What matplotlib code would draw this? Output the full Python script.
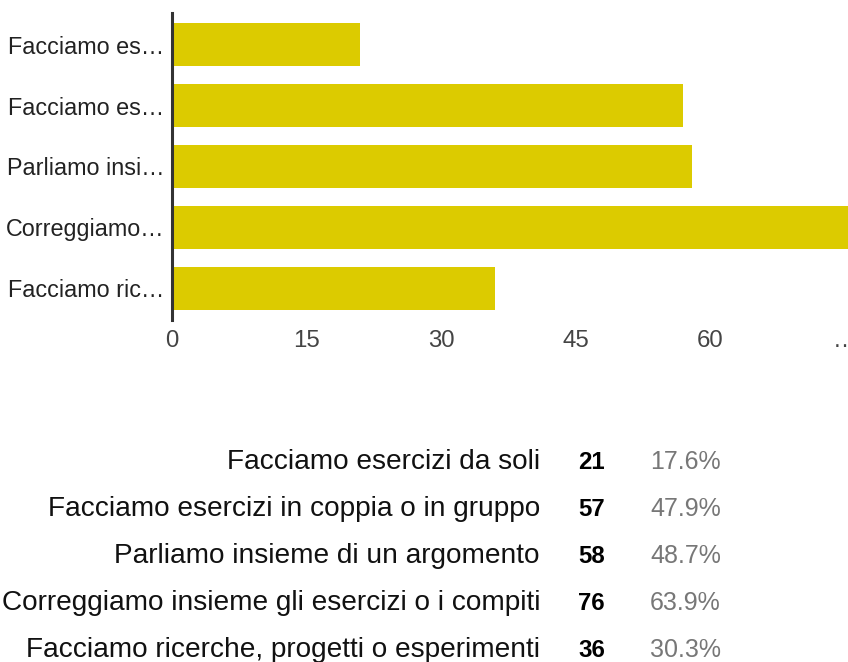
import matplotlib
matplotlib.use("Agg")
import matplotlib.pyplot as plt

plt.rcParams['font.family'] = ['Liberation Sans', 'DejaVu Sans']

labels_full = ["Facciamo esercizi da soli",
               "Facciamo esercizi in coppia o in gruppo",
               "Parliamo insieme di un argomento",
               "Correggiamo insieme gli esercizi o i compiti",
               "Facciamo ricerche, progetti o esperimenti"]
labels_short = ["Facciamo es\u2026", "Facciamo es\u2026", "Parliamo insi\u2026",
                "Correggiamo\u2026", "Facciamo ric\u2026"]
counts = [21, 57, 58, 76, 36]
percents = ["17.6%", "47.9%", "48.7%", "63.9%", "30.3%"]
xticks = [0, 15, 30, 45, 60, 75]
xtick_labels = ["0", "15", "30", "45", "60", "\u2026"]

W, H = 848, 662
fig = plt.figure(figsize=(W / 100, H / 100), dpi=100)
ax = fig.add_axes([172 / W, 1 - 320 / H, (W - 172) / W, 307 / H])

pos = list(range(len(counts)))
ax.barh(pos, counts, height=0.7, color="#dccb00", zorder=2)
ax.set_xlim(0, 75.4)
ax.set_ylim(4.52, -0.52)
ax.set_yticks(pos)
ax.set_yticklabels(labels_short, fontsize=16.8, color="#222222")
ax.set_xticks(xticks)
ax.set_xticklabels(xtick_labels, fontsize=17.3, color="#444444")
ax.tick_params(length=0)
ax.tick_params(axis="y", pad=5.5)
ax.tick_params(axis="x", pad=7)
for s in ["top", "right", "bottom"]:
    ax.spines[s].set_visible(False)
ax.spines["left"].set_color("#333333")
ax.spines["left"].set_linewidth(2.2)
ax.spines["left"].set_zorder(3)

# table under the chart
baselines = [469, 516, 563, 610, 657]
for i in range(len(counts)):
    y = 1 - baselines[i] / H
    fig.text(540 / W, y, labels_full[i], ha="right", va="baseline",
             fontsize=20.2, color="#111111")
    fig.text(578 / W, y, str(counts[i]), ha="left", va="baseline",
             fontsize=17.3, fontweight="bold", color="#000000")
    fig.text(650 / W, y, percents[i], ha="left", va="baseline",
             fontsize=18, color="#777777")

fig.savefig("out.png", dpi=100)
